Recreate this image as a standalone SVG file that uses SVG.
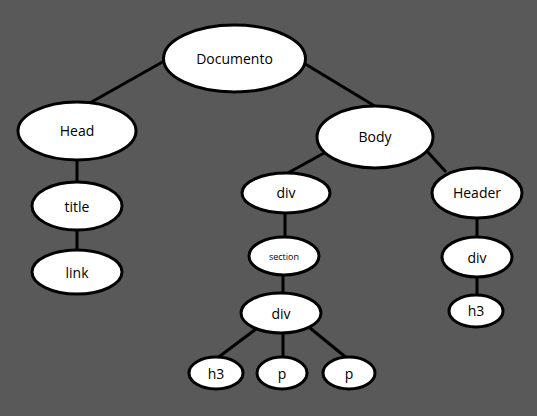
<svg xmlns="http://www.w3.org/2000/svg" width="537" height="416" viewBox="0 0 537 416">
<style>
.n ellipse{fill:#fff;stroke:#000;stroke-width:3}
.n text{font-family:"Open Sans","Noto Sans",sans-serif;font-size:14px;fill:#000;text-anchor:middle;dominant-baseline:central}
.e line{stroke:#000;stroke-width:3}
</style>
<rect width="537" height="416" fill="#595959"/>
<g class="e">
<line x1="166" y1="60" x2="88" y2="104"/>
<line x1="302" y1="62" x2="378" y2="108"/>
<line x1="77" y1="158" x2="77" y2="184"/>
<line x1="77" y1="228" x2="77" y2="252"/>
<line x1="326" y1="152" x2="286" y2="174"/>
<line x1="426" y1="150" x2="446" y2="172"/>
<line x1="285" y1="211" x2="285" y2="239"/>
<line x1="283" y1="273" x2="283" y2="295"/>
<line x1="256" y1="329" x2="216" y2="359"/>
<line x1="283" y1="331" x2="283" y2="359"/>
<line x1="310" y1="328" x2="348" y2="359"/>
<line x1="477" y1="216" x2="477" y2="239"/>
<line x1="477" y1="275" x2="477" y2="297"/>
</g>
<g class="n" id="documento"><ellipse cx="234.5" cy="58.5" rx="71" ry="33.5"/><text x="234.5" y="58.5">Documento</text></g>
<g class="n" id="head"><ellipse cx="77" cy="131" rx="59" ry="29"/><text x="77" y="130">Head</text></g>
<g class="n" id="title"><ellipse cx="77" cy="206" rx="45" ry="24"/><text x="77" y="206">title</text></g>
<g class="n" id="link"><ellipse cx="77" cy="272" rx="45" ry="22"/><text x="77" y="272">link</text></g>
<g class="n" id="body"><ellipse cx="375" cy="137" rx="58" ry="31"/><text x="375" y="136">Body</text></g>
<g class="n" id="div1"><ellipse cx="286" cy="193" rx="44" ry="20"/><text x="286" y="192">div</text></g>
<g class="n" id="section"><ellipse cx="284" cy="256" rx="35" ry="19"/><text x="284" y="256" style="font-size:9px">section</text></g>
<g class="n" id="div2"><ellipse cx="281" cy="313" rx="40" ry="20"/><text x="281" y="313">div</text></g>
<g class="n" id="h3a"><ellipse cx="216" cy="373" rx="27" ry="16"/><text x="216" y="373">h3</text></g>
<g class="n" id="p1"><ellipse cx="282" cy="373" rx="25" ry="16"/><text x="282" y="373">p</text></g>
<g class="n" id="p2"><ellipse cx="349" cy="373" rx="26" ry="16"/><text x="349" y="373">p</text></g>
<g class="n" id="header"><ellipse cx="477" cy="193" rx="45" ry="25"/><text x="477" y="192">Header</text></g>
<g class="n" id="div3"><ellipse cx="477" cy="257" rx="35" ry="20"/><text x="477" y="257">div</text></g>
<g class="n" id="h3b"><ellipse cx="476" cy="311" rx="27" ry="16"/><text x="476" y="310">h3</text></g>
</svg>
